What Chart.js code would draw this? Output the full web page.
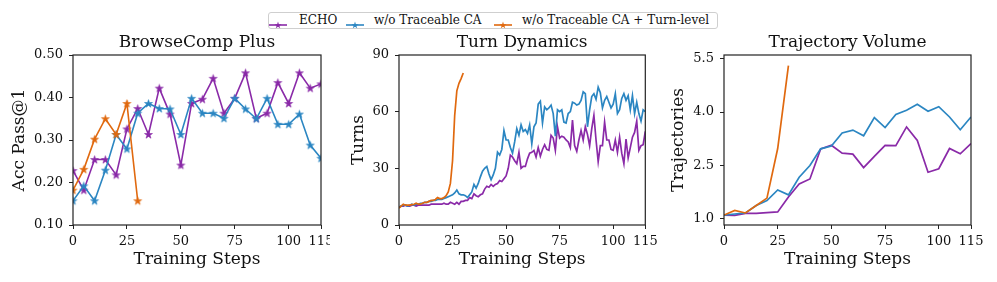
<!DOCTYPE html>
<html><head><meta charset="utf-8">
<script src="https://cdn.jsdelivr.net/npm/chart.js@4.4.1/dist/chart.umd.min.js"></script>
<style>
html,body{margin:0;padding:0;background:#fff;}
body{width:997px;height:282px;position:relative;overflow:hidden;font-family:'DejaVu Serif',serif;color:#111;}
canvas{position:absolute;top:30px;}
#legend{position:absolute;left:268px;top:12px;width:450px;height:17px;border:1px solid #cfcfcf;border-radius:3px;box-sizing:border-box;background:#fff;}
.lt{position:absolute;top:13px;font-size:12px;line-height:14px;white-space:nowrap;font-family:'DejaVu Serif',serif;}
.li{position:absolute;top:15px;}
</style>
</head><body>
<div id="legend"></div>
<span class="li" id="li1" style="left:269px"></span><span class="lt" style="left:299px">ECHO</span>
<span class="li" id="li2" style="left:346px"></span><span class="lt" style="left:374px">w/o Traceable CA</span>
<span class="li" id="li3" style="left:494px"></span><span class="lt" style="left:522px">w/o Traceable CA + Turn-level</span>
<canvas id="c1" width="330" height="252" style="left:0px"></canvas>
<canvas id="c2" width="330" height="252" style="left:330px"></canvas>
<canvas id="c3" width="337" height="252" style="left:660px"></canvas>
<script>
// ---------- DATA ----------
const seriesNames = ['ECHO', 'w/o Traceable CA', 'w/o Traceable CA + Turn-level'];
const xTickValues = [0, 25, 50, 75, 100, 115];

// Panel 1: BrowseComp Plus (Acc Pass@1)
const browseSteps = [0,5,10,15,20,25,30,35,40,45,50,55,60,65,70,75,80,85,90,95,100,105,110,115];
const browseEcho = [0.228,0.182,0.254,0.254,0.218,0.326,0.374,0.313,0.422,0.361,0.241,0.386,0.396,0.445,0.363,0.398,0.458,0.351,0.363,0.435,0.386,0.458,0.422,0.432];
const browseNoCA = [0.157,0.192,0.157,0.229,0.313,0.279,0.363,0.386,0.374,0.373,0.313,0.398,0.363,0.363,0.351,0.398,0.373,0.350,0.398,0.337,0.337,0.361,0.288,0.257];
const browseTurnSteps = [0,5,10,15,20,25,30];
const browseTurnLevel = [0.182,0.231,0.302,0.350,0.313,0.386,0.157];
const browseYTicks = [0.1,0.2,0.3,0.4,0.5];

// Panel 2: Turn Dynamics (Turns per step)
const turnSteps = [0,1,2,3,4,5,6,7,8,9,10,11,12,13,14,15,16,17,18,19,20,21,22,23,24,25,26,27,28,29,30,31,32,33,34,35,36,37,38,39,40,41,42,43,44,45,46,47,48,49,50,51,52,53,54,55,56,57,58,59,60,61,62,63,64,65,66,67,68,69,70,71,72,73,74,75,76,77,78,79,80,81,82,83,84,85,86,87,88,89,90,91,92,93,94,95,96,97,98,99,100,101,102,103,104,105,106,107,108,109,110,111,112,113,114,115];
const turnEcho = [9.5,10,10,10.5,10,10,10.5,10.5,10,10.5,10.5,10.5,10.5,10.5,10.5,11,11,11,11,11,11,11.5,11,11,12,11.5,11,12,11,12.5,12.5,13,13,14.5,14,16.5,15.5,15,16,16.5,19,20.5,20,21.5,20.5,21.5,22,23.5,23,24.5,26,30,37,36,34,32.5,38.5,30,31,31,35,38,38.5,39.5,36,41,36.5,40,42.5,40,39.5,47.5,46,39.5,52,46,47,46.5,45,44,41,55.5,42,39,45,50,45,52,48,42,51,58,45,33.5,42,42,54.5,45,45,40,39.5,45,38.5,46.5,38,32.5,45.5,35.5,41,46.5,49,55,39.5,42,42.5,49.5];
const turnNoCA = [9.5,10,10.5,10.5,10,10.5,11,10.5,11,11,11.5,11.5,12,12,12.5,12.5,13,13,13.5,13.5,13.5,14,14.5,15,15.5,16,17,18.5,16.5,16,16,15.5,14.5,16,17.5,21.5,19.5,22,25.5,28.5,30,31,27,24,26.5,30,38.5,37,40,50,45,45,41,38,44,51,47.5,53,49.5,50.5,48.5,53,43,52,54,64,65.5,54,62.5,61,62,63.5,59,47,61,60,61,54.5,54,59,60,65,64.5,63.5,64,66,70.5,69.5,52,61,68,69.5,66.5,73,70,62,66,68,65,62,64,69.5,59,61,67,69.5,66,68.5,61,68.5,59,65,59,55,61,60];
const turnTurnSteps = [0,1,2,3,4,5,6,7,8,9,10,11,12,13,14,15,16,17,18,19,20,21,22,23,24,25,26,27,28,29,30];
const turnTurnLevel = [9,10,11,10.5,10.5,10.5,10.8,11,11.5,11,11,11.5,12,12,12.5,13,13,13.5,14.5,14,14,14.5,15.5,17.5,22,34,58,71,75,77.5,80.5];
const turnYTicks = [0,30,60,90];

// Panel 3: Trajectory Volume
const trajSteps = [0,5,10,15,20,25,30,35,40,45,50,55,60,65,70,75,80,85,90,95,100,105,110,115];
const trajEcho = [1.09,1.08,1.14,1.14,1.16,1.18,1.60,1.97,2.11,2.96,3.06,2.84,2.81,2.43,2.75,3.06,3.05,3.58,3.20,2.30,2.40,2.97,2.82,3.11];
const trajNoCA = [1.09,1.12,1.15,1.36,1.50,1.80,1.66,2.16,2.49,2.96,3.04,3.41,3.49,3.33,3.84,3.56,3.93,4.05,4.22,4.02,4.15,3.86,3.50,3.86];
const trajTurnSteps = [0,5,10,15,20,25,30];
const trajTurnLevel = [1.09,1.22,1.15,1.36,1.57,2.97,5.31];
const trajYTicks = [1.0,2.5,4.0,5.5];

// ---------- STYLE ----------
const COLORS = ['#8a2aa8', '#2b86c2', '#e0690f'];
const FONT = "'DejaVu Serif', serif";
const INK = '#111';

function starPoints(cx, cy, R) {
  const r = R * 0.382, pts = [];
  for (let i = 0; i < 10; i++) {
    const a = -Math.PI / 2 + i * Math.PI / 5;
    const rr = i % 2 === 0 ? R : r;
    pts.push([cx + rr * Math.cos(a), cy + rr * Math.sin(a)]);
  }
  return pts;
}
function starCanvas(color, R) {
  const s = Math.ceil(R * 2 + 2);
  const c = document.createElement('canvas');
  c.width = s; c.height = s;
  const g = c.getContext('2d');
  const pts = starPoints(s / 2, s / 2 + R * 0.08, R);
  g.beginPath();
  pts.forEach((p, i) => i ? g.lineTo(p[0], p[1]) : g.moveTo(p[0], p[1]));
  g.closePath();
  g.fillStyle = color; g.fill();
  g.lineWidth = 0.6; g.strokeStyle = color; g.stroke();
  return c;
}
// legend icons
['li1', 'li2', 'li3'].forEach((id, k) => {
  const pts = starPoints(9, 5.3, 3.8).map(p => p[0].toFixed(2) + ',' + p[1].toFixed(2)).join(' ');
  document.getElementById(id).innerHTML =
    `<svg width="18" height="10" xmlns="http://www.w3.org/2000/svg"><line x1="0" y1="5" x2="18" y2="5" stroke="${COLORS[k]}" stroke-width="1.6"/><polygon points="${pts}" fill="${COLORS[k]}"/></svg>`;
});

const framePlugin = {
  id: 'frame',
  afterDatasetsDraw(chart) {
    const { ctx, chartArea: a } = chart;
    ctx.save();
    ctx.strokeStyle = '#222'; ctx.lineWidth = 1.2;
    ctx.strokeRect(a.left, a.top, a.right - a.left, a.bottom - a.top);
    ctx.restore();
  }
};
// panel title centred over the plotting area (as in the reference)
const panelTitlePlugin = {
  id: 'ptitle',
  afterDraw(chart, args, opts) {
    const { ctx, chartArea: a } = chart;
    ctx.save();
    ctx.font = `17px ${FONT}`;
    ctx.fillStyle = INK;
    ctx.textAlign = 'center';
    ctx.textBaseline = 'middle';
    ctx.fillText(opts.text, (a.left + a.right) / 2, 12.5);
    ctx.restore();
  }
};

function pts(xs, ys) { return xs.map((x, i) => ({ x: x, y: ys[i] })); }

function makeChart(id, cfg) {
  const gridOpts = { display: true, drawOnChartArea: false, drawTicks: true, tickLength: 4, tickColor: '#222', tickWidth: 1 };
  return new Chart(document.getElementById(id), {
    type: 'line',
    data: { datasets: cfg.datasets },
    plugins: [framePlugin, panelTitlePlugin],
    options: {
      responsive: false, animation: false, events: [],
      layout: { padding: { left: 0, right: cfg.padRight, top: 25, bottom: 0 } },
      plugins: {
        legend: { display: false }, tooltip: { enabled: false }, title: { display: false },
        ptitle: { text: cfg.title }
      },
      scales: {
        x: {
          type: 'linear', min: 0, max: 115,
          afterBuildTicks: s => { s.ticks = xTickValues.map(v => ({ value: v })); },
          afterFit: s => { s.height = 57; s.paddingLeft = 0; s.paddingRight = 0; },
          grid: gridOpts, border: { display: false },
          ticks: { color: INK, font: { family: FONT, size: 13, lineHeight: 1 }, padding: 6, maxRotation: 0, autoSkip: false, callback: v => String(v) },
          title: { display: true, text: 'Training Steps', color: INK, font: { family: FONT, size: 17, lineHeight: 1.2 }, padding: { top: 0, bottom: 12.3 } }
        },
        y: {
          type: 'linear', min: cfg.ymin, max: cfg.ymax,
          afterBuildTicks: s => { s.ticks = cfg.yticks.map(v => ({ value: v })); },
          afterFit: s => { s.width = cfg.yw; s.paddingTop = 0; s.paddingBottom = 0; },
          grid: gridOpts, border: { display: false },
          ticks: { color: INK, font: { family: FONT, size: 13, lineHeight: 1 }, padding: 6, autoSkip: false, callback: cfg.yfmt },
          title: { display: true, text: cfg.ytitle, color: INK, font: { family: FONT, size: 17, lineHeight: 1.2 }, padding: { top: cfg.ytPad, bottom: 0 } }
        }
      }
    }
  });
}

function lineDs(label, data, k, withStars) {
  return {
    label: label, data: data, borderColor: COLORS[k], backgroundColor: COLORS[k],
    borderWidth: withStars ? 1.6 : 1.7, tension: 0, order: 3 - k,
    pointStyle: withStars ? starCanvas(COLORS[k], 4.2) : 'circle',
    pointRadius: withStars ? 4 : 0, pointHoverRadius: 0
  };
}

makeChart('c1', {
  title: 'BrowseComp Plus', ytitle: 'Acc Pass@1', ymin: 0.1, ymax: 0.5, yticks: browseYTicks,
  yfmt: v => v.toFixed(2), yw: 73, padRight: 9, ytPad: 9.8,
  datasets: [
    lineDs(seriesNames[0], pts(browseSteps, browseEcho), 0, true),
    lineDs(seriesNames[1], pts(browseSteps, browseNoCA), 1, true),
    lineDs(seriesNames[2], pts(browseTurnSteps, browseTurnLevel), 2, true)
  ]
});
makeChart('c2', {
  title: 'Turn Dynamics', ytitle: 'Turns', ymin: 0, ymax: 90, yticks: turnYTicks,
  yfmt: v => String(v), yw: 69, padRight: 14.7, ytPad: 18.3,
  datasets: [
    lineDs(seriesNames[0], pts(turnSteps, turnEcho), 0, false),
    lineDs(seriesNames[1], pts(turnSteps, turnNoCA), 1, false),
    lineDs(seriesNames[2], pts(turnTurnSteps, turnTurnLevel), 2, false)
  ]
});
makeChart('c3', {
  title: 'Trajectory Volume', ytitle: 'Trajectories', ymin: 0.81, ymax: 5.61, yticks: trajYTicks,
  yfmt: v => v.toFixed(1), yw: 64, padRight: 26, ytPad: 8.3,
  datasets: [
    lineDs(seriesNames[0], pts(trajSteps, trajEcho), 0, false),
    lineDs(seriesNames[1], pts(trajSteps, trajNoCA), 1, false),
    lineDs(seriesNames[2], pts(trajTurnSteps, trajTurnLevel), 2, false)
  ]
});
</script>
</body></html>
